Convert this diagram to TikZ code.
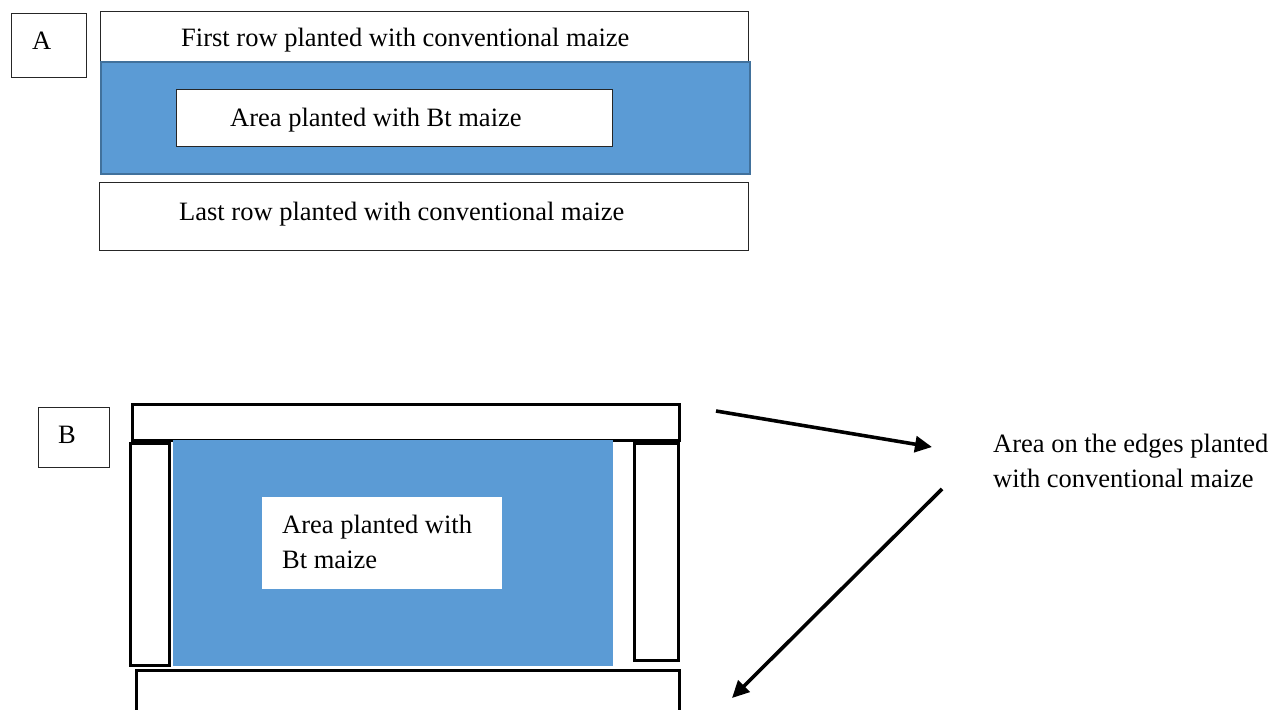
\documentclass[tikz,border=0pt]{standalone}
\usepackage{fontspec}
\setmainfont{Liberation Serif}
\usetikzlibrary{arrows.meta}
\definecolor{fieldblue}{HTML}{5B9BD5}
\definecolor{fieldedge}{HTML}{41719C}
\begin{document}
\begin{tikzpicture}[x=1pt,y=-1pt,
  thinbox/.style={draw=black!85, line width=1.1pt, fill=white, inner sep=0pt, anchor=north west},
  thickbox/.style={draw=black, line width=2.6pt, fill=white, inner sep=0pt, anchor=north west},
  plainwhite/.style={fill=white, inner sep=0pt, anchor=north west},
  bluearea/.style={fill=fieldblue, inner sep=0pt, anchor=north west},
  lbl/.style={font=\fontsize{26.5}{34.5}\selectfont, inner sep=0pt, anchor=base west},
  bigarrow/.style={line width=3.6pt, -{Triangle[length=17pt,width=16pt]}}]
\useasboundingbox (0,0) rectangle (1284,709);
\clip (0,0) rectangle (1284,709);
% ---------- Part A ----------
\node[thinbox, minimum width=75pt, minimum height=64pt] (aLabelBox) at (11,13) {};
\node[lbl] (aLabel) at (32,50) {A};
\node[thinbox, minimum width=648pt, minimum height=51pt] (aFirst) at (100,11) {};
\node[lbl] (aFirstText) at (181,47) {First row planted with conventional maize};
\node[bluearea, draw=fieldedge, line width=2pt, minimum width=649pt, minimum height=112pt] (aBt) at (100,61) {};
\node[thinbox, minimum width=436pt, minimum height=57pt] (aBtBox) at (176,89) {};
\node[lbl] (aBtText) at (230,126) {Area planted with Bt maize};
\node[thinbox, minimum width=649pt, minimum height=68pt] (aLast) at (99,182) {};
\node[lbl] (aLastText) at (179,220) {Last row planted with conventional maize};
% ---------- Part B ----------
\node[thinbox, minimum width=71pt, minimum height=60pt] (bLabelBox) at (38,407) {};
\node[lbl] (bLabel) at (58,443) {B};
\node[thickbox, minimum width=547pt, minimum height=36pt] (bTop) at (131,403) {};
\node[bluearea, minimum width=440pt, minimum height=226pt] (bBt) at (173,440) {};
\node[plainwhite, minimum width=240pt, minimum height=92pt] (bBtBox) at (262,497) {};
\node[lbl, align=left, anchor=north west] (bBtText) at (282,515) {Area planted with\\Bt maize};
\node[thickbox, minimum width=39pt, minimum height=222pt] (bLeft) at (129,442) {};
\node[thickbox, minimum width=44pt, minimum height=217pt] (bRight) at (633,442) {};
\node[thickbox, minimum width=543pt, minimum height=60pt] (bBottom) at (135,669) {};
\node[lbl, align=left, anchor=north west] (bEdgeText) at (993,434) {Area on the edges planted\\with conventional maize};
\coordinate (arr1s) at (716,411);
\coordinate (arr1e) at (932,447);
\coordinate (arr2s) at (942,489);
\coordinate (arr2e) at (732,698);
\draw[bigarrow] (arr1s) -- (arr1e);
\draw[bigarrow] (arr2s) -- (arr2e);
\end{tikzpicture}
\end{document}
